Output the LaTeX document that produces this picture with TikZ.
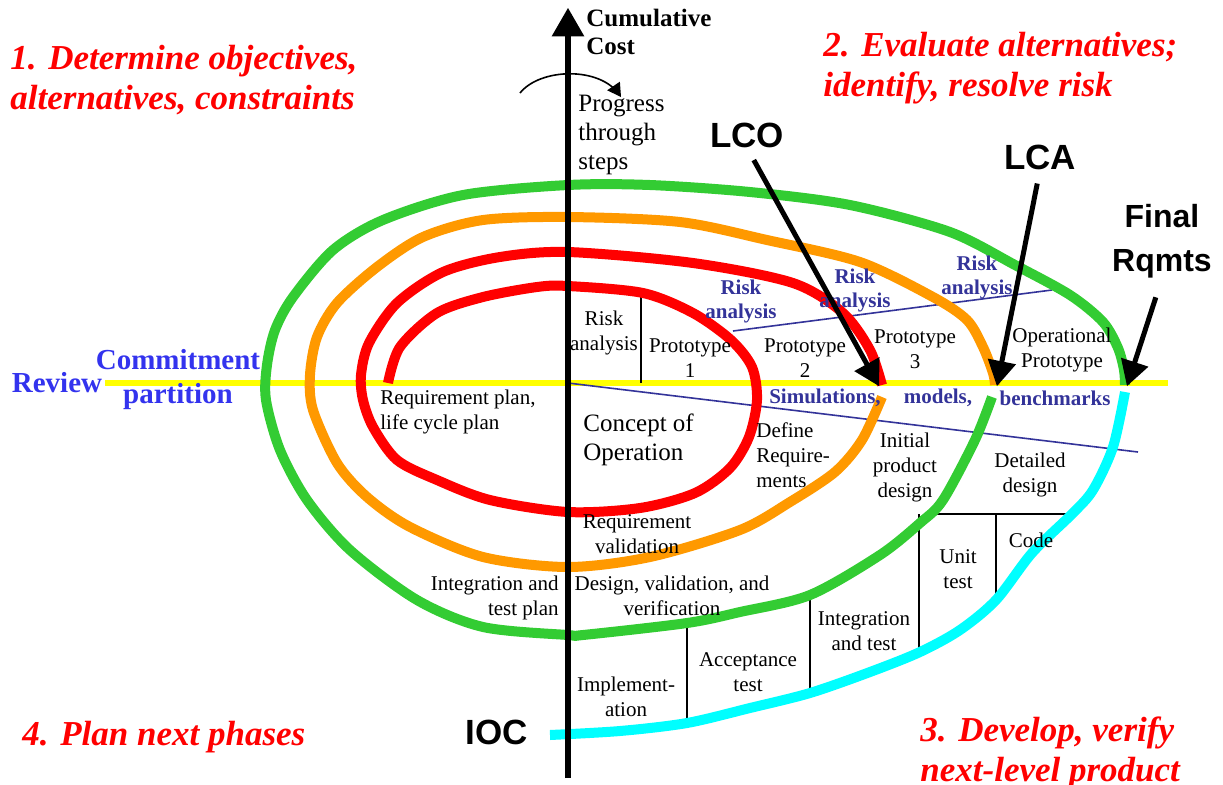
\documentclass[tikz,border=0pt]{standalone}
\usepackage{fontspec}
\setmainfont{Liberation Serif}
\newfontfamily\milefont{Liberation Sans}
\usetikzlibrary{arrows}

\definecolor{spiralred}{RGB}{255,0,0}
\definecolor{spiralorange}{RGB}{255,153,0}
\definecolor{spiralgreen}{RGB}{51,204,51}
\definecolor{spiralcyan}{RGB}{0,255,255}
\definecolor{partyellow}{RGB}{255,255,0}
\definecolor{reviewblue}{RGB}{51,51,238}
\definecolor{riskblue}{RGB}{51,51,153}

\begin{document}
\begin{tikzpicture}[%
    x=0.5pt, y=-0.5pt,          % work in pixels of the sketch, y downwards
    >=triangle 60,
    every node/.style={inner sep=0pt},
    ]
% -------------------------------------------------
% Styles
\tikzset{
  spiral/.style={line width=5pt, line join=round},
  lbl/.style={font=\fontsize{10.5}{12.5}\selectfont, align=center},
  big/.style={font=\fontsize{12.5}{14.5}\selectfont, align=left, anchor=west},
  risk/.style={font=\bfseries\fontsize{10.5}{12}\selectfont, text=riskblue, align=center},
  quad/.style={font=\bfseries\itshape\fontsize{17.5}{20}\selectfont, text=red, align=left, anchor=west},
  mile/.style={font=\milefont\bfseries\fontsize{17.5}{21}\selectfont, align=center},
  pointer/.style={->, line width=2.5pt},
  divider/.style={line width=0.8pt},
  slant/.style={riskblue, line width=0.8pt}
}
\useasboundingbox (0,0) rectangle (1223,784);
% -------------------------------------------------
% Partition lines
\draw [partyellow, line width=3pt] (105,383) -- (1168,383);
\draw [slant] (568,383) -- (1138,452);
\draw [slant] (733,331) -- (1052,290);

\draw [divider] (641,291) -- (641,383);
\draw [divider] (932,514) -- (1072,514);
\draw [divider] (919,514) -- (919,652);
\draw [divider] (996,514) -- (996,600);
\draw [divider] (810,595) -- (810,693);
\draw [divider] (687,623) -- (687,723);

% -------------------------------------------------
% The spiral, one colour per round
\draw [spiral, spiralred] plot [smooth, tension=0.5] coordinates {
  (388,383) (400,347) (437,313) (483,297) (537,287) (568,286) (643,293)
  (693,313) (731,340) (752,367) (757,400) (749,437) (730,468) (695,493)
  (640,508) (568,512) (490,500) (437,480) (397,460) (373,427) (363,400)
  (361,375) (369,343) (397,303) (443,272) (500,257) (568,252) (693,263)
  (793,283) (843,313) (870,350) (882,385)};
\draw [spiral, spiralorange] plot [smooth, tension=0.5] coordinates {
  (882,397) (862,440) (835,472) (790,502) (740,530) (650,557) (568,567)
  (483,557) (410,527) (367,497) (337,463) (313,410) (310,375) (317,337)
  (337,303) (377,267) (423,237) (483,220) (568,217) (680,222) (767,240)
  (860,262) (933,297) (967,320) (983,347) (993,373) (995,385)};
\draw [spiral, spiralgreen] plot [smooth, tension=0.5] coordinates {
  (992,397) (975,440) (943,500) (920,523) (880,555) (810,595) (740,612)
  (687,623) (583,635) (568,635) (483,627) (417,600) (350,550) (307,500)
  (280,450) (266,400) (267,365) (275,330) (293,297) (333,250) (383,220)
  (463,195) (568,185) (650,185) (750,192) (850,205) (950,232) (1015,265)
  (1070,295) (1103,322) (1118,348) (1124,370) (1125,385)};
\draw [spiral, spiralcyan] plot [smooth, tension=0.5] coordinates {
  (1125,392) (1113,447) (1093,490) (1072,514) (1032,553) (996,600)
  (960,630) (920,652) (870,672) (810,693) (750,708) (687,723) (620,731)
  (550,735)};

% -------------------------------------------------
% Cost axis and progress arrow
\coordinate (axisfoot) at (568,778);
\coordinate (axistop) at (568,8);
\draw [->, line width=3pt] (axisfoot) -- (axistop);
\node [font=\bfseries\fontsize{12.5}{14}\selectfont, align=left, anchor=west]
  (cost) at (586,32) {Cumulative\\Cost};
\node [big] (progress) at (578,135) {Progress\\through\\steps};
\coordinate (turnA) at (520,93);
\coordinate (turnB) at (621,97);
\draw [->, line width=0.8pt] (turnA) .. controls (540,68) and (600,66) .. (turnB);

% -------------------------------------------------
% Quadrants
\node [quad] (q1) at (10,80) {1. Determine objectives,\\alternatives, constraints};
\node [quad] (q2) at (823,68) {2. Evaluate alternatives;\\identify, resolve risk};
\node [quad] (q3) at (920,753) {3. Develop, verify\\next-level product};
\node [quad] (q4) at (22,737) {4. Plan next phases};

\node [font=\bfseries\fontsize{14.5}{17}\selectfont, text=reviewblue]
  (review) at (57,383) {Review};
\node [font=\bfseries\fontsize{14.5}{17}\selectfont, text=reviewblue, align=center]
  (commit) at (178,380) {Commitment\\partition};

% -------------------------------------------------
% Steps of each round
\node [lbl] (riskA) at (604,333) {Risk\\analysis};
\node [lbl] (proto1) at (690,358) {Prototype\\1};
\node [lbl] (proto2) at (805,358) {Prototype\\2};
\node [lbl] (proto3) at (915,349) {Prototype\\3};
\node [lbl] (oproto) at (1062,350) {Operational\\Prototype};
\node [lbl, align=left, anchor=west] (reqplan) at (380,412) {Requirement plan,\\life cycle plan};
\node [big] (concept) at (583,440) {Concept of\\Operation};
\node [lbl, align=left, anchor=west] (defreq) at (756,455) {Define\\Require-\\ments};
\node [lbl] (initial) at (905,467) {Initial\\product\\design};
\node [lbl] (detailed) at (1030,475) {Detailed\\design};
\node [lbl] (reqval) at (637,534) {Requirement\\validation};
\node [lbl, align=right, anchor=east] (itplan) at (559,598) {Integration and\\test plan};
\node [lbl] (dvv) at (672,596) {Design, validation, and\\verification};
\node [lbl] (unit) at (958,569) {Unit\\test};
\node [lbl] (code) at (1031,540) {Code};
\node [lbl] (intest) at (864,631) {Integration\\and test};
\node [lbl] (accept) at (748,672) {Acceptance\\test};
\node [lbl] (impl) at (626,697) {Implement-\\ation};

\node [risk] (risk1) at (741,301) {Risk\\analysis};
\node [risk] (risk2) at (855,290) {Risk\\analysis};
\node [risk] (risk3) at (977,277) {Risk\\analysis};
\node [risk] (sim) at (825,398) {Simulations,};
\node [risk] (models) at (938,398) {models,};
\node [risk] (bench) at (1055,398) {benchmarks};

% -------------------------------------------------
% Milestones
\node [mile] (lco) at (747,135) {LCO};
\node [mile] (lca) at (1040,157) {LCA};
\node [mile, font=\milefont\bfseries\fontsize{16}{22}\selectfont] (final) at (1162,241) {Final\\Rqmts};
\node [mile] (ioc) at (497,732) {IOC};
\coordinate (lcotip) at (879,386);
\coordinate (lcatip) at (997,386);
\coordinate (finaltip) at (1127,386);
\draw [pointer, shorten <=7pt] (lco.south) -- (lcotip);
\draw [pointer, shorten <=7pt] (lca.south) -- (lcatip);
\draw [pointer, shorten <=10pt] (final.south) -- (finaltip);
\end{tikzpicture}
\end{document}
